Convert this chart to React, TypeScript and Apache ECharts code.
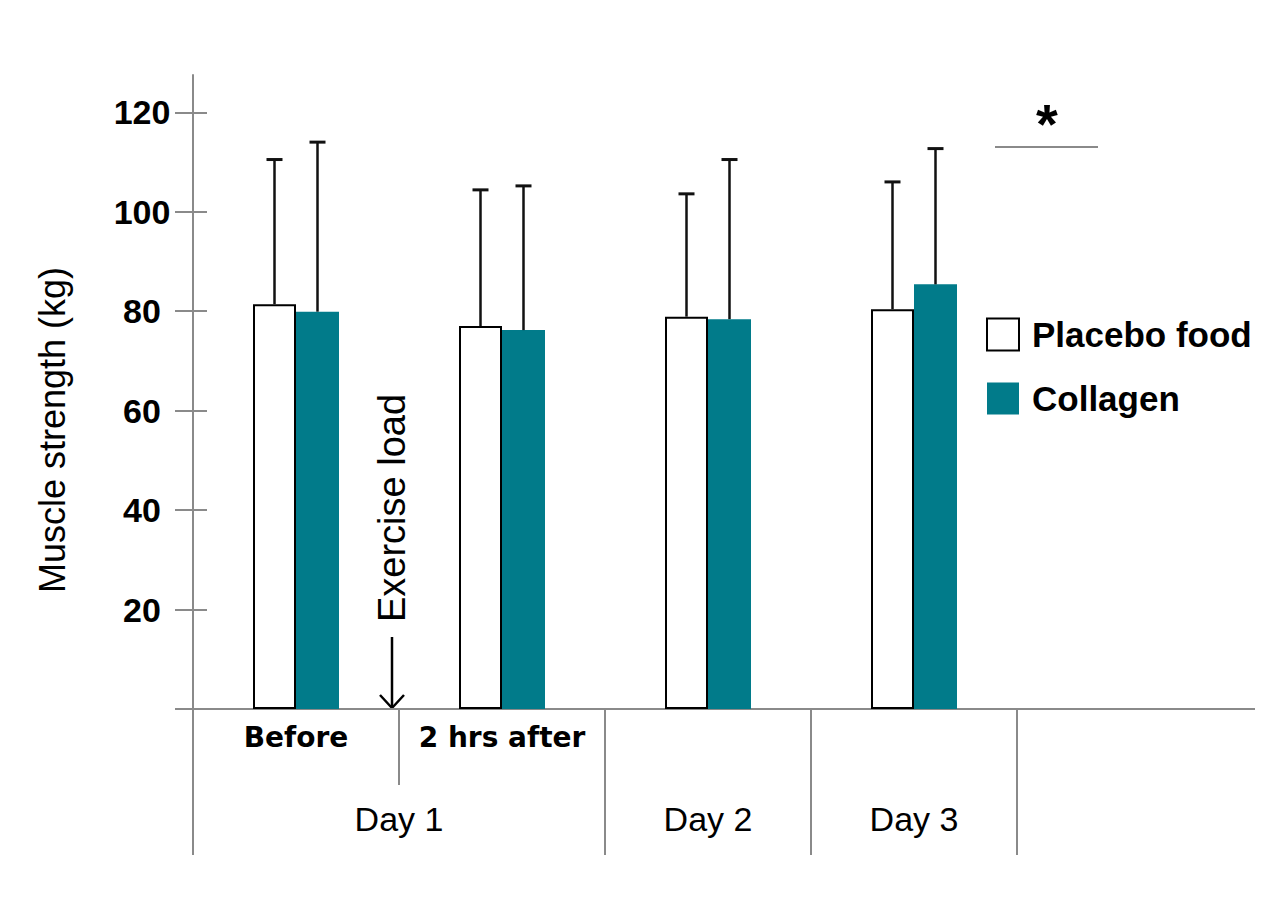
import React, { useEffect, useRef } from 'react';
import * as echarts from 'echarts';

const timePoints = ['Before', '2 hrs after', '', ''];
const days = ['Day 1', '', 'Day 2', 'Day 3'];
const dayStarts = [0, 2, 3];
const seriesNames = ['Placebo food', 'Collagen'];
const placebo = [81.4, 77.0, 78.9, 80.4];
const collagen = [79.9, 76.2, 78.4, 85.4];
const placeboSd = [29.1, 27.4, 24.7, 25.6];
const collagenSd = [34.1, 29.0, 32.1, 27.3];
const yTicks = [0, 20, 40, 60, 80, 100, 120];
const yLabelTicks = [20, 40, 60, 80, 100, 120];

const TEAL = '#017B8A';
const GRAY = '#8a8a8a';
const FONT = '"Liberation Sans", Arial, sans-serif';
const BAR_W = 43;

function errorSeries(means: number[], sds: number[], side: number) {
  return {
    type: 'custom',
    xAxisIndex: 0,
    yAxisIndex: 0,
    silent: true,
    z: 5,
    data: means.map((m, i) => [i, m, m + sds[i]]),
    renderItem: (_params: any, api: any) => {
      const base = api.coord([api.value(0), api.value(1)]);
      const top = api.coord([api.value(0), api.value(2)]);
      const x = base[0] + (side * BAR_W) / 2;
      return {
        type: 'group',
        children: [
          { type: 'line', shape: { x1: x, y1: base[1], x2: x, y2: top[1] }, style: { stroke: '#111', lineWidth: 2.5 } },
          { type: 'line', shape: { x1: x - 8, y1: top[1], x2: x + 8, y2: top[1] }, style: { stroke: '#111', lineWidth: 3 } },
        ],
      };
    },
  };
}

export default function App() {
  const ref = useRef<HTMLDivElement>(null);
  useEffect(() => {
    if (!ref.current) return;
    const chart = echarts.init(ref.current, null, { renderer: 'svg' });
    const option: any = {
      animation: false,
      backgroundColor: '#fff',
      textStyle: { fontFamily: FONT },
      grid: { left: 193, right: 265, top: 75, bottom: 207, containLabel: false },
      legend: {
        data: seriesNames,
        orient: 'vertical',
        left: 986,
        top: 317,
        padding: 0,
        itemWidth: 32,
        itemHeight: 32,
        itemGap: 29,
        icon: 'rect',
        selectedMode: false,
        textStyle: { fontSize: 35, fontWeight: 'bold', color: '#000', fontFamily: FONT, padding: [0, 0, 0, 8] },
      },
      xAxis: [
        {
          type: 'category',
          data: timePoints,
          position: 'bottom',
          axisLine: { lineStyle: { color: GRAY, width: 2 } },
          axisTick: { show: true, length: 76, interval: 0, lineStyle: { color: GRAY, width: 2 } },
          axisLabel: {
            interval: 0,
            margin: 14,
            color: '#000',
            fontFamily: '"DejaVu Sans", sans-serif',
            fontWeight: 'bold',
            fontSize: 28,
          },
        },
        {
          type: 'category',
          data: days.map((d, i) => (i === 0 ? { value: d, textStyle: { padding: [0, 0, 0, 206] } } : d)),
          position: 'bottom',
          offset: 76,
          axisLine: { show: true, onZero: false, lineStyle: { color: 'rgba(0,0,0,0)', width: 1 } },
          axisTick: {
            show: true,
            length: 70,
            customValues: dayStarts,
            lineStyle: { color: GRAY, width: 2 },
          },
          axisLabel: { interval: 0, margin: 17, color: '#000', fontSize: 34, fontFamily: FONT },
        },
      ],
      yAxis: [
        {
          type: 'value',
          min: 0,
          max: 127.5,
          position: 'left',
          name: 'Muscle strength (kg)',
          nameLocation: 'middle',
          nameRotate: 90,
          nameGap: 123,
          nameTextStyle: { fontSize: 36, color: '#000', fontFamily: FONT, padding: [0, 76, 0, 0] },
          axisLine: { show: true, lineStyle: { color: GRAY, width: 2 } },
          axisTick: { show: true, length: 18, customValues: yTicks, lineStyle: { color: GRAY, width: 2 } },
          axisLabel: {
            customValues: yLabelTicks,
            margin: 51,
            align: 'center',
            color: '#000',
            fontWeight: 'bold',
            fontSize: 34,
            fontFamily: FONT,
          },
          splitLine: { show: false },
        },
        {
          type: 'value',
          min: 0,
          max: 127.5,
          position: 'left',
          axisLine: { show: false },
          axisTick: { show: true, inside: true, length: 14, customValues: yTicks, lineStyle: { color: GRAY, width: 2 } },
          axisLabel: { show: false },
          splitLine: { show: false },
        },
      ],
      series: [
        {
          name: seriesNames[0],
          type: 'bar',
          data: placebo,
          barWidth: BAR_W,
          barGap: 0,
          itemStyle: { color: '#fff', borderColor: '#000', borderWidth: 2 },
          z: 2,
        },
        {
          name: seriesNames[1],
          type: 'bar',
          data: collagen,
          barWidth: BAR_W,
          barGap: 0,
          itemStyle: { color: TEAL },
          z: 2,
        },
        errorSeries(placebo, placeboSd, -1),
        errorSeries(collagen, collagenSd, 1),
      ],
      graphic: [
        { type: 'line', shape: { x1: 1016, y1: 709, x2: 1255, y2: 709 }, style: { stroke: GRAY, lineWidth: 2 } },
        {
          type: 'text',
          x: 392,
          y: 508,
          rotation: Math.PI / 2,
          style: { text: 'Exercise load', font: '38px "Liberation Sans", Arial, sans-serif', fill: '#000', align: 'center', verticalAlign: 'middle' },
        },
        { type: 'line', shape: { x1: 392, y1: 637, x2: 392, y2: 707 }, style: { stroke: '#000', lineWidth: 2.5 } },
        {
          type: 'polyline',
          shape: { points: [[380, 695], [392, 708], [404, 695]] },
          style: { stroke: '#000', lineWidth: 2.5, fill: null },
        },
        {
          type: 'text',
          x: 1047,
          y: 123,
          style: { text: '*', font: 'bold 56px "Liberation Sans", Arial, sans-serif', fill: '#000', align: 'center', verticalAlign: 'middle' },
        },
        { type: 'line', shape: { x1: 995, y1: 147, x2: 1098, y2: 147 }, style: { stroke: GRAY, lineWidth: 2 } },
      ],
    };
    chart.setOption(option);
    return () => chart.dispose();
  }, []);
  return <div ref={ref} style={{ position: 'fixed', left: 0, top: 0, width: 1282, height: 916 }} />;
}
